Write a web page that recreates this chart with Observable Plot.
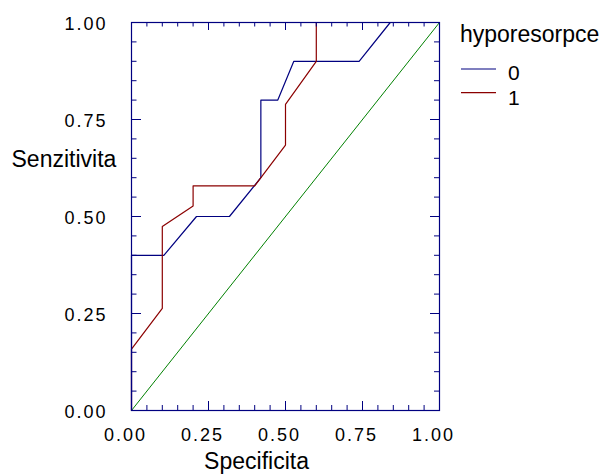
<!DOCTYPE html>
<html><head><meta charset="utf-8">
<script src="https://cdn.jsdelivr.net/npm/d3@7"></script>
<script src="https://cdn.jsdelivr.net/npm/@observablehq/plot@0.6"></script>
<style>body{margin:0;background:#fff}</style>
</head><body><div id="chart"></div>
<script>
// Data
const groups = ["0", "1"];
const blueX = [0, 0, 0.105, 0.211, 0.318, 0.420, 0.420, 0.475, 0.527, 0.739, 0.840, 1];
const blueY = [0, 0.40, 0.40, 0.50, 0.50, 0.60, 0.80, 0.80, 0.90, 0.90, 1.00, 1.00];
const redX = [0, 0, 0.10, 0.10, 0.20, 0.20, 0.40, 0.50, 0.50, 0.60, 0.60, 1];
const redY = [0, 0.158, 0.263, 0.474, 0.527, 0.579, 0.579, 0.684, 0.789, 0.900, 1.00, 1.00];
const diagX = [0, 1];
const diagY = [0, 1];
const majorTicks = [0, 0.25, 0.5, 0.75, 1];
const minorTicks = [0.05, 0.1, 0.15, 0.2, 0.3, 0.35, 0.4, 0.45, 0.55, 0.6, 0.65, 0.7, 0.8, 0.85, 0.9, 0.95];
const xTitle = "Specificita";
const yTitle = "Senzitivita";
const legendTitle = "hyporesorpce";

const colors = {"0": "#000080", "1": "#8b0000"};
const navy = "#000080";
const W = 611, H = 475, mL = 131, mR = 172, mT = 22, mB = 65;
const iw = W - mL - mR, ih = H - mT - mB;

const rows = [
  ...blueX.map((x, i) => ({x, y: blueY[i], g: "0"})),
  ...redX.map((x, i) => ({x, y: redY[i], g: "1"}))
];
const diag = diagX.map((x, i) => ({x, y: diagY[i]}));

const fmt = d3.format(".2f");
const majL = 9, minL = 5;

const svg = Plot.plot({
  width: W, height: H,
  marginLeft: mL, marginRight: mR, marginTop: mT, marginBottom: mB,
  style: {fontFamily: "'Liberation Sans', Arial, sans-serif", color: "black", background: "white", overflow: "visible"},
  x: {domain: [0, 1], label: null},
  y: {domain: [0, 1], label: null},
  marks: [
    Plot.line(diag, {x: "x", y: "y", stroke: "#008000", strokeWidth: 1}),
    Plot.line(rows, {x: "x", y: "y", z: "g", stroke: d => colors[d.g], strokeWidth: 1.2, curve: "linear"}),
    Plot.frame({stroke: navy, strokeWidth: 1.2}),
    // inward ticks: bottom, top
    Plot.tickX(majorTicks, {x: d => d, stroke: navy, insetTop: ih - majL}),
    Plot.tickX(minorTicks, {x: d => d, stroke: navy, insetTop: ih - minL}),
    Plot.tickX(majorTicks, {x: d => d, stroke: navy, insetBottom: ih - majL + 1}),
    Plot.tickX(minorTicks, {x: d => d, stroke: navy, insetBottom: ih - minL + 0.5}),
    // left, right
    Plot.tickY(majorTicks, {y: d => d, stroke: navy, insetRight: iw - majL - 1}),
    Plot.tickY(minorTicks, {y: d => d, stroke: navy, insetRight: iw - minL - 0.5}),
    Plot.tickY(majorTicks, {y: d => d, stroke: navy, insetLeft: iw - majL}),
    Plot.tickY(minorTicks, {y: d => d, stroke: navy, insetLeft: iw - minL}),
    Plot.axisX(majorTicks, {tickSize: 0, tickPadding: 18, tickFormat: fmt, fontSize: 18, dx: -6, label: null}),
    Plot.axisY(majorTicks, {tickSize: 0, tickPadding: 24, tickFormat: fmt, fontSize: 18, dy: 2, label: null}),
    Plot.text([xTitle], {frameAnchor: "bottom", text: d => d, fontSize: 23, lineAnchor: "top", dx: -29, dy: 42, fill: "black"}),
    Plot.text([yTitle], {frameAnchor: "top-left", text: d => d, fontSize: 23, lineAnchor: "top", textAnchor: "start", dx: -120, dy: 128, fill: "black"})
  ]
});

// widen tick label spacing to match the reference
d3.select(svg).selectAll("g[aria-label='x-axis tick label'] text, g[aria-label='y-axis tick label'] text")
  .attr("letter-spacing", "2px");

// Legend (to the right of the plot frame)
const g = d3.select(svg).append("g")
  .attr("font-family", "'Liberation Sans', Arial, sans-serif")
  .attr("text-anchor", "start");
const lx = mL + iw + 22;
g.append("text").attr("x", lx - 1).attr("y", 41.5).attr("font-size", 23).attr("fill", "black").text(legendTitle);
const lineY = [69, 92.7];
const textY = [80, 104.5];
groups.forEach((k, i) => {
  g.append("line").attr("x1", lx).attr("x2", lx + 35).attr("y1", lineY[i]).attr("y2", lineY[i])
    .attr("stroke", colors[k]).attr("stroke-width", 1.2);
  g.append("text").attr("x", lx + 47).attr("y", textY[i]).attr("font-size", 21).attr("fill", "black").text(k);
});

document.getElementById("chart").appendChild(svg);
</script>
</body></html>
